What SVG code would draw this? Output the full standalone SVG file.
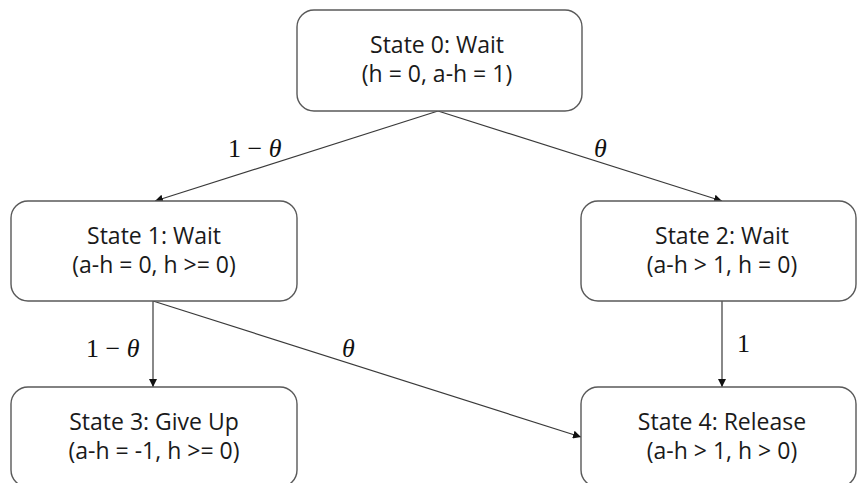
<svg xmlns="http://www.w3.org/2000/svg" width="857" height="483" viewBox="0 0 857 483">
<style>
.box{fill:#fff;stroke:#595959;stroke-width:1.4}
.t{font-family:"Open Sans","Liberation Sans",sans-serif;font-size:23px;fill:#1a1a1a;text-anchor:middle}
.e{stroke:#3a3a3a;stroke-width:1.2;fill:none;marker-end:url(#ah)}
.m{font-family:"Liberation Serif","DejaVu Serif",serif;font-size:26px;fill:#111}
.m tspan.i{font-style:italic}
</style>
<defs>
<marker id="ah" viewBox="0 0 10 10" refX="10" refY="5" markerWidth="8" markerHeight="8" markerUnits="userSpaceOnUse" orient="auto">
<path d="M0,0 L10,5 L0,10 z" fill="#111"/>
</marker>
</defs>
<rect width="857" height="483" fill="#fff"/>
<g id="connectors">
<line class="e" x1="438" y1="111" x2="155" y2="201"/>
<line class="e" x1="438" y1="111" x2="722" y2="201"/>
<line class="e" x1="153" y1="301" x2="153" y2="387"/>
<line class="e" x1="153" y1="301" x2="581" y2="437"/>
<line class="e" x1="722" y1="301" x2="722" y2="387"/>
<text class="m" x="228" y="157" xml:space="preserve">1 − <tspan class="i">θ</tspan></text>
<text class="m" x="594" y="157"><tspan class="i">θ</tspan></text>
<text class="m" x="86" y="357" xml:space="preserve">1 − <tspan class="i">θ</tspan></text>
<text class="m" x="342" y="357"><tspan class="i">θ</tspan></text>
<text class="m" x="737" y="352">1</text>
</g>
<g id="state0">
<rect class="box" x="297" y="10" width="285" height="101" rx="17"/>
<text class="t" x="437" y="53">State 0: Wait</text>
<text class="t" x="437" y="82">(h = 0, a-h = 1)</text>
</g>
<g id="state1">
<rect class="box" x="11" y="201" width="286" height="100" rx="17"/>
<text class="t" x="154" y="244">State 1: Wait</text>
<text class="t" x="154" y="273">(a-h = 0, h &gt;= 0)</text>
</g>
<g id="state2">
<rect class="box" x="581" y="201" width="275" height="100" rx="17"/>
<text class="t" x="722" y="244">State 2: Wait</text>
<text class="t" x="722" y="273">(a-h &gt; 1, h = 0)</text>
</g>
<g id="state3">
<rect class="box" x="11" y="387" width="286" height="100" rx="17"/>
<text class="t" x="154" y="430">State 3: Give Up</text>
<text class="t" x="154" y="459">(a-h = -1, h &gt;= 0)</text>
</g>
<g id="state4">
<rect class="box" x="581" y="387" width="275" height="100" rx="17"/>
<text class="t" x="722" y="430">State 4: Release</text>
<text class="t" x="722" y="459">(a-h &gt; 1, h &gt; 0)</text>
</g>
</svg>
